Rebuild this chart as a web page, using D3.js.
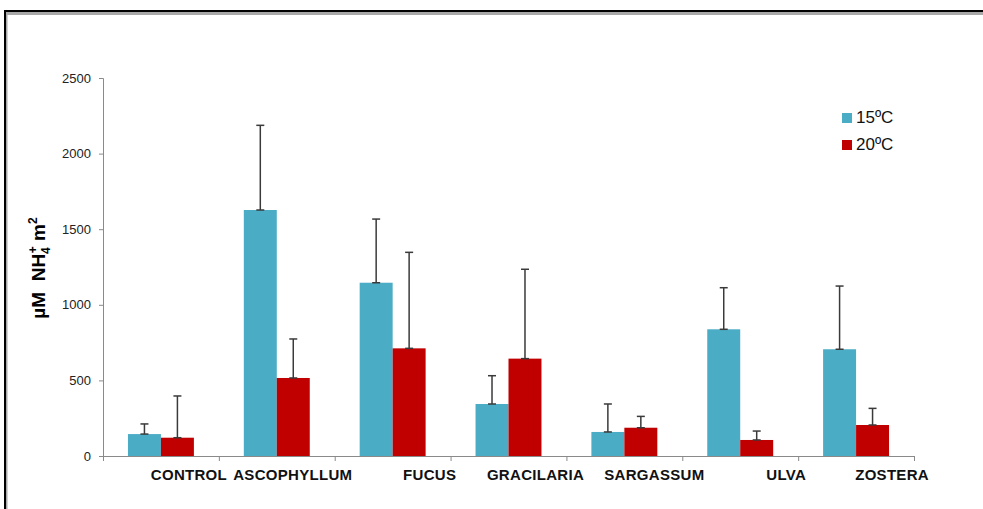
<!DOCTYPE html>
<html>
<head>
<meta charset="utf-8">
<script src="https://cdn.jsdelivr.net/npm/d3@7"></script>
<style>
  html, body { margin: 0; padding: 0; background: #fff; }
  svg { display: block; font-family: "Liberation Sans", Arial, sans-serif; }
</style>
</head>
<body>
<svg id="chart" width="983" height="509"></svg>
<script>
// Ammonium flux per species at two temperatures (mean and upper error)
const categories = ["CONTROL", "ASCOPHYLLUM", "FUCUS", "GRACILARIA", "SARGASSUM", "ULVA", "ZOSTERA"];
const seriesNames = ["15ºC", "20ºC"];
const mean15 = [145, 1627, 1146, 344, 159, 838, 706];
const err15  = [67, 560, 421, 187, 185, 275, 418];
const mean20 = [121, 516, 712, 644, 187, 106, 205];
const err20  = [276, 258, 635, 591, 75, 59, 110];
const yTicks = [0, 500, 1000, 1500, 2000, 2500];

const colors = ["#4BACC6", "#C00000"];

const svg = d3.select("#chart");

// Frame around the chart area
svg.append("rect").attr("x", 4).attr("y", 10).attr("width", 979).attr("height", 2).attr("fill", "#000");
svg.append("rect").attr("x", 6).attr("y", 12).attr("width", 977).attr("height", 3).attr("fill", "#a8a8a8");
svg.append("rect").attr("x", 4).attr("y", 10).attr("width", 2).attr("height", 499).attr("fill", "#000");
svg.append("rect").attr("x", 6).attr("y", 12).attr("width", 1.5).attr("height", 497).attr("fill", "#a8a8a8");

const plotLeft = 103, plotRight = 914, plotTop = 78, plotBottom = 456;

const x = d3.scaleBand().domain(categories).range([plotLeft, plotRight]).paddingInner(0).paddingOuter(0);
const xInner = d3.scaleBand().domain(seriesNames).range([0, x.bandwidth()]).paddingInner(0).paddingOuter(0.757);
const y = d3.scaleLinear().domain([0, 2500]).range([plotBottom, plotTop]);

const axisColor = "#8a8a8a";

// Y axis
const yAxis = svg.append("g")
  .attr("transform", `translate(${plotLeft},0)`)
  .call(d3.axisLeft(y).tickValues(yTicks).tickSize(4).tickPadding(8).tickFormat(d3.format("d")));
yAxis.select(".domain").attr("stroke", axisColor);
yAxis.selectAll(".tick line").attr("stroke", axisColor);
yAxis.selectAll(".tick text")
  .attr("fill", "#222")
  .style("font-size", "13px")
  .style("font-family", "'Liberation Sans', Arial, sans-serif");

// X axis line and tick marks at category boundaries
svg.append("line")
  .attr("x1", plotLeft).attr("x2", plotRight)
  .attr("y1", plotBottom + 0.5).attr("y2", plotBottom + 0.5)
  .attr("stroke", axisColor);
const boundaries = categories.map(c => x(c)).concat([x(categories[categories.length - 1]) + x.bandwidth()]);
svg.selectAll(".xtick").data(boundaries).enter().append("line")
  .attr("class", "xtick")
  .attr("x1", d => d + 0.5).attr("x2", d => d + 0.5)
  .attr("y1", plotBottom).attr("y2", plotBottom + 5)
  .attr("stroke", axisColor);

// Category labels (nudged to the right like the source layout)
const labelShift = [28, 16, 37, 27, 30, 46, 36];
svg.selectAll(".xlabel").data(categories).enter().append("text")
  .attr("class", "xlabel")
  .attr("x", (d, i) => x(d) + x.bandwidth() / 2 + labelShift[i])
  .attr("y", 480)
  .attr("text-anchor", "middle")
  .attr("font-weight", "bold")
  .attr("font-size", "15px")
  .attr("letter-spacing", "0.3px")
  .attr("fill", "#111")
  .text(d => d);

// Bars
const rows = categories.map((c, i) => [
  { cat: c, s: seriesNames[0], v: mean15[i], e: err15[i], k: 0 },
  { cat: c, s: seriesNames[1], v: mean20[i], e: err20[i], k: 1 }
]).flat();

svg.selectAll(".bar").data(rows).enter().append("rect")
  .attr("class", "bar")
  .attr("x", d => x(d.cat) + xInner(d.s))
  .attr("y", d => y(d.v))
  .attr("width", xInner.bandwidth())
  .attr("height", d => y(0) - y(d.v))
  .attr("fill", d => colors[d.k]);

// Upper error bars
const errG = svg.append("g").attr("stroke", "#3a3a3a").attr("stroke-width", 1.5);
rows.forEach(d => {
  const cx = x(d.cat) + xInner(d.s) + xInner.bandwidth() / 2;
  errG.append("line").attr("x1", cx).attr("x2", cx).attr("y1", y(d.v)).attr("y2", y(d.v + d.e));
  errG.append("line").attr("x1", cx - 4).attr("x2", cx + 4).attr("y1", y(d.v + d.e)).attr("y2", y(d.v + d.e));
  errG.append("line").attr("x1", cx - 4).attr("x2", cx + 4).attr("y1", y(d.v)).attr("y2", y(d.v));
});

// Y axis title
const yt = svg.append("text")
  .attr("transform", "translate(45,268) rotate(-90)")
  .attr("text-anchor", "middle")
  .attr("font-weight", "bold")
  .attr("font-size", "19px")
  .attr("fill", "#000");
yt.append("tspan").text("µM\u00A0\u00A0NH");
yt.append("tspan").attr("font-size", "12px").attr("dy", 5).text("4");
yt.append("tspan").attr("font-size", "12px").attr("dy", -13).attr("dx", -6).text("+");
yt.append("tspan").attr("dy", 8).text("\u00A0m");
yt.append("tspan").attr("font-size", "12px").attr("dy", -8).text("2");

// Legend
const legend = svg.append("g").attr("transform", "translate(842,113)");
seriesNames.forEach((s, i) => {
  legend.append("rect").attr("x", 0).attr("y", i * 27).attr("width", 10).attr("height", 10).attr("fill", colors[i]);
  legend.append("text").attr("x", 14).attr("y", i * 27 + 10)
    .attr("font-size", "17px").attr("fill", "#111").text(s);
});
</script>
</body>
</html>
